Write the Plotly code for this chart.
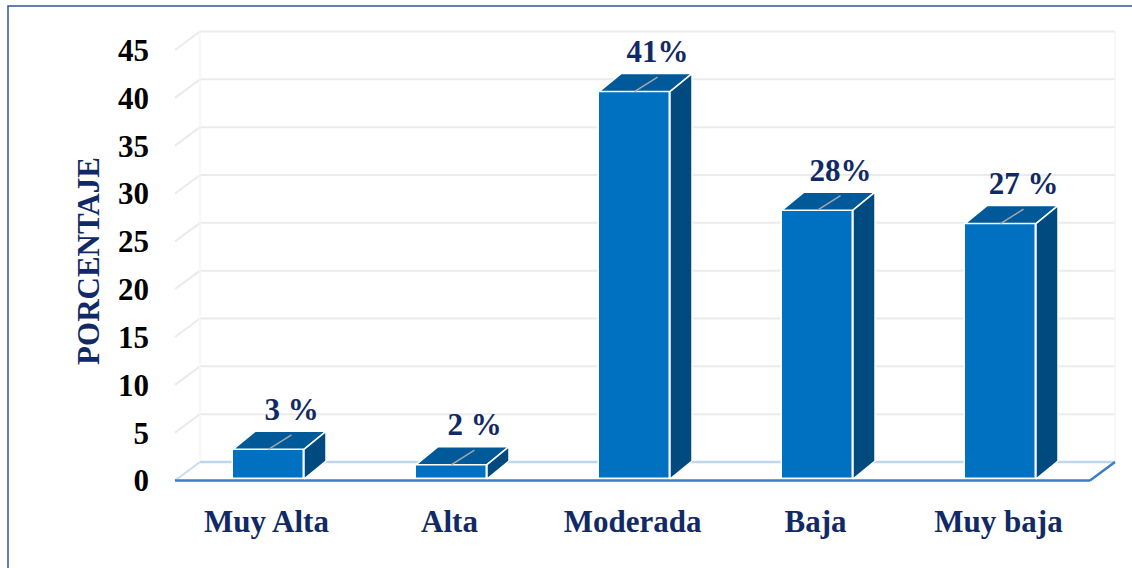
import plotly.graph_objects as go

# ---------------- data ----------------
categories = ["Muy Alta", "Alta", "Moderada", "Baja", "Muy baja"]
values = [3.1, 1.5, 40.5, 28.1, 26.7]
value_labels = ["3 %", "2 %", "41%", "28%", "27 %"]
y_ticks = [0, 5, 10, 15, 20, 25, 30, 35, 40, 45]
y_title = "PORCENTAJE"

# ---------------- geometry (pixels) ----------------
W, H = 1132, 568
L, R, T, B = 170, 1120, 22, 500          # plot area
FRONT_LEFT, FRONT_RIGHT = 175, 1090      # front floor edge
Y0_PX, YMAX_PX = 480.5, 50               # front-plane pixel of 0 and 45
YMAX = y_ticks[-1]
PX_X = (FRONT_RIGHT - FRONT_LEFT) / len(categories)
PX_Y = (Y0_PX - YMAX_PX) / YMAX


def dx(px):
    return px / PX_X


def dy(px):
    return px / PX_Y


x_range = [-0.5 + dx(L - FRONT_LEFT), -0.5 + dx(R - FRONT_LEFT)]
y_range = [dy(Y0_PX - B), dy(Y0_PX - T)]

FLOOR_DX, FLOOR_DY = dx(25), dy(18.5)    # depth of the floor / walls
BAR_OFF_X, BAR_BASE = dx(2), dy(1.5)     # bar front plane offset
BAR_HALF = dx(35.5)
BAR_DX, BAR_DY = dx(22), dy(18)          # bar depth

FONT = "Liberation Serif"
NAVY = "#112A66"
FRONT_C, TOP_C, SIDE_C = "#0070C0", "#005A9A", "#004A80"
GRID_C = "#EBEBEB"

x_pos = list(range(len(categories)))
x_front = [i + BAR_OFF_X for i in x_pos]

fig = go.Figure()

# front faces
fig.add_trace(go.Bar(
    x=x_front, y=values, base=BAR_BASE, width=2 * BAR_HALF,
    marker=dict(color=FRONT_C, line=dict(color="white", width=1.5)),
    hoverinfo="skip", showlegend=False,
))

# top and side faces
top_x, top_y, side_x, side_y = [], [], [], []
for xc, v in zip(x_front, values):
    xl, xr = xc - BAR_HALF, xc + BAR_HALF
    yt = BAR_BASE + v
    top_x += [xl, xr, xr + BAR_DX, xl + BAR_DX, xl, None]
    top_y += [yt, yt, yt + BAR_DY, yt + BAR_DY, yt, None]
    side_x += [xr, xr + BAR_DX, xr + BAR_DX, xr, xr, None]
    side_y += [BAR_BASE, BAR_BASE + BAR_DY, yt + BAR_DY, yt, BAR_BASE, None]

fig.add_trace(go.Scatter(x=top_x, y=top_y, mode="lines", fill="toself",
                         fillcolor=TOP_C, line=dict(color="white", width=1.5),
                         hoverinfo="skip", showlegend=False))
fig.add_trace(go.Scatter(x=side_x, y=side_y, mode="lines", fill="toself",
                         fillcolor=SIDE_C, line=dict(color="white", width=1.5),
                         hoverinfo="skip", showlegend=False))

# leader lines
ll_x, ll_y = [], []
for xc, v in zip(x_front, values):
    yt = BAR_BASE + v
    ll_x += [xc, xc + dx(23), None]
    ll_y += [yt, yt + dy(14.5), None]
fig.add_trace(go.Scatter(x=ll_x, y=ll_y, mode="lines",
                         line=dict(color="#A6A6A6", width=1.5),
                         hoverinfo="skip", showlegend=False))

# data labels
fig.add_trace(go.Scatter(
    x=[xc + dx(23) for xc in x_front],
    y=[BAR_BASE + v + dy(37) for v in values],
    mode="text", text=value_labels, textposition="middle center",
    textfont=dict(family=FONT, size=31, color=NAVY, weight="bold"),
    hoverinfo="skip", showlegend=False,
))

# walls, gridlines and floor
shapes = []
x_left, x_right = -0.5, len(categories) - 0.5
for t in y_ticks[1:]:
    # back wall gridline
    shapes.append(dict(type="line", xref="x", yref="y", layer="below",
                       x0=x_left + FLOOR_DX, x1=x_right + FLOOR_DX,
                       y0=t + FLOOR_DY, y1=t + FLOOR_DY,
                       line=dict(color=GRID_C, width=2)))
    # side wall gridline
    shapes.append(dict(type="line", xref="x", yref="y", layer="below",
                       x0=x_left, x1=x_left + FLOOR_DX,
                       y0=t, y1=t + FLOOR_DY,
                       line=dict(color=GRID_C, width=2)))
# back wall vertical edges
for xe in (x_left + FLOOR_DX, x_right + FLOOR_DX):
    shapes.append(dict(type="line", xref="x", yref="y", layer="below",
                       x0=xe, x1=xe, y0=FLOOR_DY, y1=YMAX + FLOOR_DY,
                       line=dict(color="#F4F4F4", width=1.5)))
# floor
shapes.append(dict(type="line", xref="x", yref="y", layer="below",
                   x0=x_left + FLOOR_DX, x1=x_right + FLOOR_DX,
                   y0=FLOOR_DY, y1=FLOOR_DY,
                   line=dict(color="#BDD7EE", width=2.5)))
shapes.append(dict(type="line", xref="x", yref="y", layer="below",
                   x0=x_left, x1=x_left + FLOOR_DX, y0=0, y1=FLOOR_DY,
                   line=dict(color="#C9DDF0", width=2)))
shapes.append(dict(type="line", xref="x", yref="y", layer="below",
                   x0=x_left, x1=x_right, y0=0, y1=0,
                   line=dict(color="#3D7DC6", width=2.5)))
shapes.append(dict(type="line", xref="x", yref="y", layer="below",
                   x0=x_right, x1=x_right + FLOOR_DX, y0=0, y1=FLOOR_DY,
                   line=dict(color="#3D7DC6", width=2.5)))

# outer border (figure frame)
pw, ph = R - L, B - T
shapes.append(dict(type="rect", xref="paper", yref="paper", layer="above",
                   x0=(8 - L) / pw, x1=(W + 10 - L) / pw,
                   y0=(B - (H + 10)) / ph, y1=(B - 6) / ph,
                   line=dict(color="#2F5597", width=1.5)))

fig.update_layout(
    width=W, height=H,
    margin=dict(l=L, r=W - R, t=T, b=H - B, pad=0),
    paper_bgcolor="white", plot_bgcolor="white",
    shapes=shapes, showlegend=False, bargap=0,
    xaxis=dict(range=x_range, tickmode="array", tickvals=x_pos, ticktext=categories,
               showgrid=False, zeroline=False, showline=False, ticks="",
               ticklabelstandoff=0,
               tickfont=dict(family=FONT, size=31, color=NAVY, weight="bold")),
    yaxis=dict(range=y_range, tickmode="array", tickvals=y_ticks,
               showgrid=False, zeroline=False, showline=False, ticks="",
               ticklabelstandoff=20,
               tickfont=dict(family=FONT, size=31, color="black", weight="bold"),
               title=dict(text=y_title, standoff=9,
                          font=dict(family=FONT, size=31, color=NAVY, weight="bold"))),
)

fig.write_html("out.html", config={"displayModeBar": False},
               post_script="document.body.style.margin='0';")
